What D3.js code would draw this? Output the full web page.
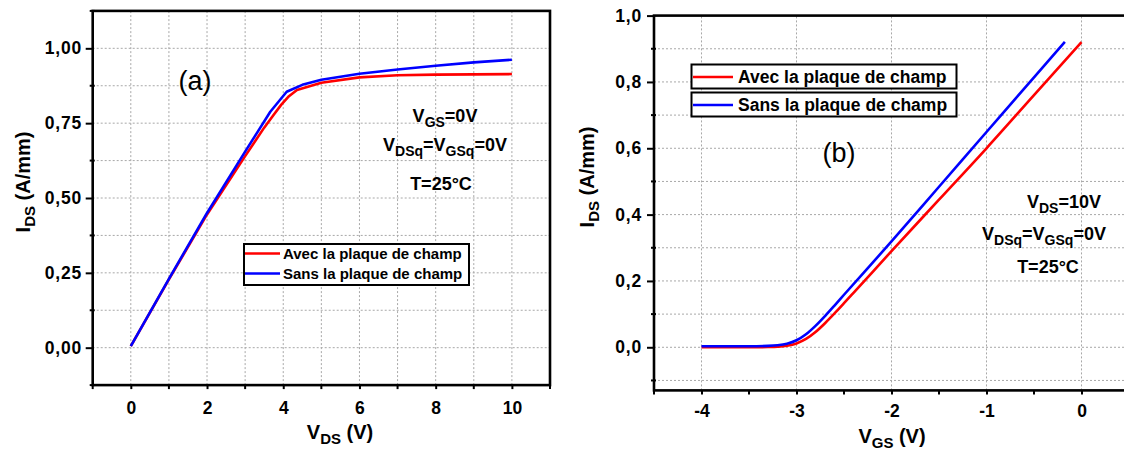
<!DOCTYPE html>
<html><head><meta charset="utf-8">
<script src="https://cdn.jsdelivr.net/npm/d3@7"></script>
<style>
html,body{margin:0;padding:0;background:#fff;}
svg{display:block;font-family:"Liberation Sans",Arial,sans-serif;}
</style></head>
<body><svg id="c" width="1124" height="451"></svg>
<script>
// ---- Panel (a): I_DS vs V_DS ----
const vdsAvec = [0, 1, 2, 3, 3.5, 3.75, 3.95, 4.15, 4.36, 5, 6, 7, 8, 9, 10];
const idsAvec = [0.005, 0.228, 0.445, 0.64, 0.735, 0.778, 0.812, 0.84, 0.861, 0.885, 0.903, 0.910, 0.912, 0.913, 0.914];
const vdsSans = [0, 1, 2, 3, 3.66, 4.09, 4.5, 5, 6, 7, 8, 9, 10];
const idsSans = [0.005, 0.23, 0.45, 0.655, 0.788, 0.855, 0.878, 0.895, 0.915, 0.929, 0.942, 0.953, 0.962];
const xTicksA = [0, 2, 4, 6, 8, 10];
const yTicksA = [0, 0.25, 0.5, 0.75, 1.0];
const yTickLabelsA = ["0,00", "0,25", "0,50", "0,75", "1,00"];

// ---- Panel (b): I_DS vs V_GS ----
const vgsAvec = [-4, -3.5, -3.3, -3.2, -3.1, -3.0, -2.9, -2.8, -2.7, -2.6, -2.5, -2.4, -2, -1.5, -1, -0.5, 0];
const idsAvecB = [0, 0, 0.0008, 0.0019, 0.0048, 0.0117, 0.0251, 0.0461, 0.0726, 0.102, 0.1328, 0.164, 0.29, 0.445, 0.60, 0.76, 0.92];
const vgsSans = [-4, -3.5, -3.3, -3.2, -3.1, -3.0, -2.9, -2.8, -2.7, -2.6, -2.5, -2, -1.5, -1, -0.5, -0.175];
const idsSansB = [0.003, 0.003, 0.0042, 0.0062, 0.011, 0.0213, 0.0394, 0.0646, 0.0942, 0.1259, 0.1584, 0.319, 0.484, 0.649, 0.814, 0.921];
const xTicksB = [-4, -3, -2, -1, 0];
const yTicksB = [0, 0.2, 0.4, 0.6, 0.8, 1.0];
const yTickLabelsB = ["0,0", "0,2", "0,4", "0,6", "0,8", "1,0"];

const seriesNames = ["Avec la plaque de champ", "Sans la plaque de champ"];
const seriesColors = ["#ff0000", "#0000ff"];

const svg = d3.select("#c");

function subText(g, x, y, parts, size, subSize, anchor) {
  const t = g.append("text").attr("x", x).attr("y", y)
    .attr("text-anchor", anchor || "middle")
    .attr("font-weight", "bold").attr("font-size", size).attr("fill", "#000");
  let sub = false;
  parts.forEach(p => {
    const s = t.append("tspan").text(p.t);
    if (p.sub && !sub) { s.attr("dy", 5).attr("font-size", subSize); sub = true; }
    else if (p.sub) { s.attr("font-size", subSize); }
    else if (!p.sub && sub) { s.attr("dy", -5); sub = false; }
  });
  return t;
}

function panel(cfg) {
  const g = svg.append("g");
  const x = d3.scaleLinear().domain(cfg.xDom).range(cfg.xRange);
  const y = d3.scaleLinear().domain(cfg.yDom).range(cfg.yRange);
  const [x0, x1] = cfg.xRange, [y0, y1] = cfg.yRange;

  // gridlines
  g.append("g").selectAll("line").data(cfg.xGrid).join("line")
    .attr("x1", d => x(d)).attr("x2", d => x(d)).attr("y1", y0).attr("y2", y1)
    .attr("stroke", "#a8a8a8").attr("stroke-width", 1).attr("stroke-dasharray", "2,2");
  g.append("g").selectAll("line").data(cfg.yGrid).join("line")
    .attr("y1", d => y(d)).attr("y2", d => y(d)).attr("x1", x0).attr("x2", x1)
    .attr("stroke", "#a8a8a8").attr("stroke-width", 1).attr("stroke-dasharray", "2,2");

  // axes
  const xAxis = d3.axisBottom(x).tickValues(cfg.xTicks).tickSize(4).tickFormat(d3.format("d"));
  const gx = g.append("g").attr("transform", `translate(0,${y0})`).call(xAxis);
  gx.select(".domain").remove();
  gx.selectAll(".tick line").attr("stroke", "#000").attr("stroke-width", 2);
  gx.selectAll(".tick text").attr("font-size", 17.5).attr("font-weight", "bold")
    .attr("font-family", "Liberation Sans, Arial, sans-serif").attr("fill", "#000")
    .attr("dy", 0).attr("y", cfg.xLabelY - y0).text(d => d3.format("d")(d).replace("−", "-"));
  g.append("g").selectAll("line").data(cfg.xMinor).join("line")
    .attr("x1", d => x(d)).attr("x2", d => x(d)).attr("y1", y0).attr("y2", y0 + 4)
    .attr("stroke", "#000").attr("stroke-width", 2);

  const yAxis = d3.axisLeft(y).tickValues(cfg.yTicks).tickSize(7)
    .tickFormat((d, i) => cfg.yTickLabels[i]);
  const gy = g.append("g").attr("transform", `translate(${x0},0)`).call(yAxis);
  gy.select(".domain").remove();
  gy.selectAll(".tick line").attr("stroke", "#000").attr("stroke-width", 2);
  gy.selectAll(".tick text").attr("font-size", 17.5).attr("font-weight", "bold")
    .attr("font-family", "Liberation Sans, Arial, sans-serif").attr("fill", "#000")
    .attr("x", cfg.yLabelX - x0).attr("letter-spacing", 0.8);
  g.append("g").selectAll("line").data(cfg.yMinor).join("line")
    .attr("y1", d => y(d)).attr("y2", d => y(d)).attr("x1", x0 - 3).attr("x2", x0 + 2)
    .attr("stroke", "#000").attr("stroke-width", 2);

  // frame
  g.append("rect").attr("x", x0).attr("y", y1).attr("width", x1 - x0).attr("height", y0 - y1)
    .attr("fill", "none").attr("stroke", "#000").attr("stroke-width", 2.6);

  // curves
  const line = d3.line().x(d => x(d[0])).y(d => y(d[1])).curve(cfg.curve);
  cfg.series.forEach((s, i) => {
    g.append("path").datum(d3.zip(s.x, s.y)).attr("d", line)
      .attr("fill", "none").attr("stroke", seriesColors[i]).attr("stroke-width", 2.6)
      .attr("stroke-linejoin", "round");
  });

  // axis titles
  subText(g, cfg.xTitle.x, cfg.xTitle.y, cfg.xTitle.parts, 20, 15);
  const yt = subText(g, 0, 0, [{t: "I"}, {t: "DS", sub: true}, {t: " (A/mm)"}], 20, 15);
  yt.attr("transform", `translate(${cfg.yTitle.x},${cfg.yTitle.y}) rotate(-90)`);
  return {g, x, y};
}

panel({
  xDom: [-1, 11], xRange: [92.7, 550], yDom: [-0.125, 1.125], yRange: [385.1, 10.9],
  xGrid: d3.range(0, 11, 1), yGrid: d3.range(0, 9).map(i => i * 0.125),
  xTicks: xTicksA, xMinor: [-1, 1, 3, 5, 7, 9, 11], yTicks: yTicksA, yTickLabels: yTickLabelsA,
  yMinor: [-0.125, 0.125, 0.375, 0.625, 0.875, 1.125],
  xLabelY: 414, yLabelX: 82, curve: d3.curveLinear,
  series: [{x: vdsAvec, y: idsAvec}, {x: vdsSans, y: idsSans}],
  xTitle: {x: 340, y: 439, parts: [{t: "V"}, {t: "DS", sub: true}, {t: " (V)"}]},
  yTitle: {x: 30, y: 182}
});

panel({
  xDom: [-4.5, 0.5], xRange: [654, 1129], yDom: [-0.13, 1.0], yRange: [390.4, 15.6],
  xGrid: [-4, -3, -2, -1, 0], yGrid: d3.range(-1, 10).map(i => i / 10),
  xTicks: xTicksB, xMinor: [-4.5, -3.5, -2.5, -1.5, -0.5, 0.5], yTicks: yTicksB, yTickLabels: yTickLabelsB,
  yMinor: [-0.1, 0.1, 0.3, 0.5, 0.7, 0.9],
  xLabelY: 417, yLabelX: 642, curve: d3.curveMonotoneX,
  series: [{x: vgsAvec, y: idsAvecB}, {x: vgsSans, y: idsSansB}],
  xTitle: {x: 892, y: 443, parts: [{t: "V"}, {t: "GS", sub: true}, {t: " (V)"}]},
  yTitle: {x: 594, y: 177}
});

// panel labels
svg.append("text").attr("x", 195).attr("y", 90).attr("text-anchor", "middle")
  .attr("font-size", 27).attr("fill", "#000").text("(a)");
svg.append("text").attr("x", 839).attr("y", 162).attr("text-anchor", "middle")
  .attr("font-size", 27).attr("fill", "#000").text("(b)");

// annotations
subText(svg, 445, 122, [{t: "V"}, {t: "GS", sub: true}, {t: "=0V"}], 18, 14);
subText(svg, 445, 151, [{t: "V"}, {t: "DSq", sub: true}, {t: "="}, {t: "V"}, {t: "GSq", sub: true}, {t: "=0V"}], 18, 14);
subText(svg, 441, 190, [{t: "T=25°C"}], 18, 14);
subText(svg, 1064, 208, [{t: "V"}, {t: "DS", sub: true}, {t: "=10V"}], 18, 14);
subText(svg, 1044, 240, [{t: "V"}, {t: "DSq", sub: true}, {t: "="}, {t: "V"}, {t: "GSq", sub: true}, {t: "=0V"}], 18, 14);
subText(svg, 1048, 273, [{t: "T=25°C"}], 18, 14);

// legend (a): single box
const legA = svg.append("g");
legA.append("rect").attr("x", 244).attr("y", 244).attr("width", 225).attr("height", 41)
  .attr("fill", "#fff").attr("stroke", "#000").attr("stroke-width", 2);
seriesNames.forEach((n, i) => {
  const yy = 253.5 + i * 20;
  legA.append("line").attr("x1", 245).attr("x2", 280).attr("y1", yy).attr("y2", yy)
    .attr("stroke", seriesColors[i]).attr("stroke-width", 2.6);
  legA.append("text").attr("x", 283).attr("y", yy + 5.5).attr("font-size", 15)
    .attr("font-weight", "bold").attr("fill", "#000").text(n);
});

// legend (b): two boxes
const legB = svg.append("g");
seriesNames.forEach((n, i) => {
  const top = 64.5 + i * 28;
  legB.append("rect").attr("x", 691.5).attr("y", top).attr("width", 265).attr("height", 24)
    .attr("fill", "#fff").attr("stroke", "#000").attr("stroke-width", 2);
  legB.append("line").attr("x1", 693).attr("x2", 733).attr("y1", top + 12.5).attr("y2", top + 12.5)
    .attr("stroke", seriesColors[i]).attr("stroke-width", 2.6);
  legB.append("text").attr("x", 738).attr("y", top + 18.5).attr("font-size", 17.5)
    .attr("font-weight", "bold").attr("fill", "#000").text(n);
});
</script></body></html>
